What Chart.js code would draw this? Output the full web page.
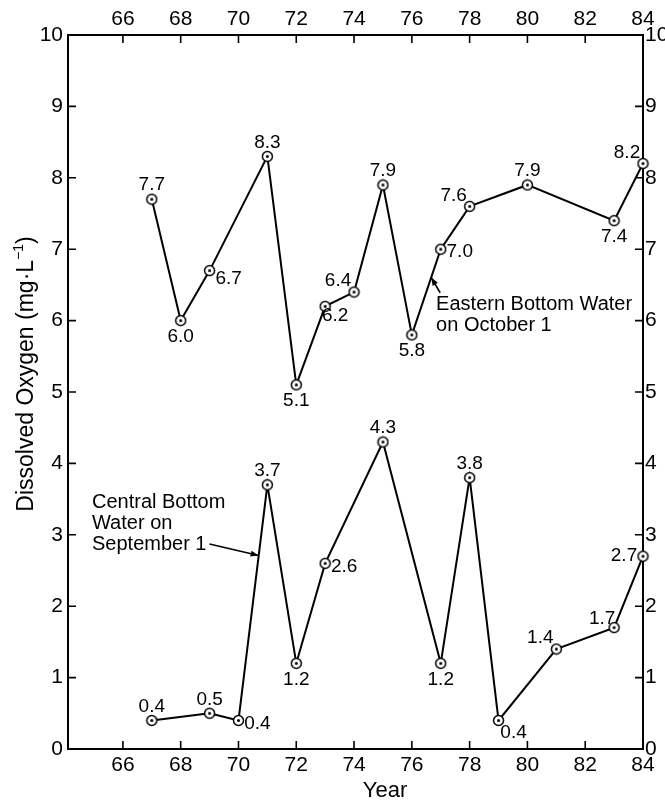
<!DOCTYPE html>
<html>
<head>
<meta charset="utf-8">
<script src="https://cdn.jsdelivr.net/npm/chart.js@4.4.1/dist/chart.umd.min.js"></script>
<style>
  html, body { margin: 0; padding: 0; background: #fff; }
  #wrap { width: 665px; height: 801px; }
</style>
</head>
<body>
<div id="wrap"><canvas id="c" width="665" height="801"></canvas></div>
<script>
// Dissolved oxygen in Lake Erie bottom water, 1967-1984
const yearTicks = [66, 68, 70, 72, 74, 76, 78, 80, 82, 84];
const oxygenTicks = [0, 1, 2, 3, 4, 5, 6, 7, 8, 9, 10];

const easternYears  = [67, 68, 69, 71, 72, 73, 74, 75, 76, 77, 78, 80, 83, 84];
const easternValues = [7.7, 6.0, 6.7, 8.3, 5.1, 6.2, 6.4, 7.9, 5.8, 7.0, 7.6, 7.9, 7.4, 8.2];
const easternLabelSide = ['a', 'b', 'rb', 'a', 'b', 'br', 'al', 'a', 'b', 'r', 'al', 'a', 'b', 'al'];

const centralYears  = [67, 69, 70, 71, 72, 73, 75, 77, 78, 79, 81, 83, 84];
const centralValues = [0.4, 0.5, 0.4, 3.7, 1.2, 2.6, 4.3, 1.2, 3.8, 0.4, 1.4, 1.7, 2.7];
const centralLabelSide = ['a', 'a', 'r', 'a', 'b', 'r', 'a', 'b', 'a', 'br2', 'al', 'al2', 'l'];

const FONT = '"Liberation Sans", Arial, Helvetica, sans-serif';

// label placement: offset of the text centre from the point
const labelOffsets = {
  a:   [0, -14],
  b:   [0, 16],
  r:   [19, 3],
  rb:  [19, 8],
  br:  [10, 9],
  br2: [15, 12],
  al:  [-16, -11],
  al2: [-12, -9],
  l:   [-19, 0]
};

// circled-dot marker
function makeMarker() {
  const m = document.createElement('canvas');
  m.width = 13; m.height = 13;
  const g = m.getContext('2d');
  g.beginPath();
  g.arc(6.5, 6.5, 5, 0, Math.PI * 2);
  g.fillStyle = '#fff';
  g.fill();
  g.lineWidth = 1.5;
  g.strokeStyle = '#000';
  g.stroke();
  g.beginPath();
  g.arc(6.5, 6.5, 1.5, 0, Math.PI * 2);
  g.fillStyle = '#000';
  g.fill();
  return m;
}
const marker = makeMarker();

function toPoints(xs, ys) { return xs.map((x, i) => ({ x: x, y: ys[i] })); }

const lineStyle = {
  borderColor: '#000',
  borderWidth: 2,
  tension: 0,
  pointStyle: marker,
  pointRadius: 6,
  pointHoverRadius: 6,
  fill: false,
  clip: false
};

function setTicks(list) {
  return function (scale) { scale.ticks = list.map(v => ({ value: v })); };
}
function fixSize(dim, size) {
  return function (scale) {
    scale[dim] = size;
    scale.paddingLeft = 0; scale.paddingRight = 0;
    scale.paddingTop = 0; scale.paddingBottom = 0;
  };
}

const tickFont = { family: FONT, size: 21 };
const borderStyle = { display: true, color: '#000', width: 2 };

function xAxis(position, size) {
  return {
    type: 'linear', position: position, min: 64.1, max: 84,
    grid: { display: false, drawTicks: false },
    border: borderStyle,
    ticks: { font: tickFont, color: '#000', padding: position === 'top' ? 3 : 4,
             maxRotation: 0, autoSkip: false },
    afterBuildTicks: setTicks(yearTicks),
    afterFit: fixSize('height', size)
  };
}
function yAxis(position, size) {
  return {
    type: 'linear', position: position, min: 0, max: 10,
    grid: { display: false, drawTicks: false },
    border: borderStyle,
    ticks: { font: tickFont, color: '#000', padding: position === 'left' ? 5 : 2, autoSkip: false },
    afterBuildTicks: setTicks(oxygenTicks),
    afterFit: fixSize('width', size)
  };
}

// inward tick marks on all four sides
const innerTicks = {
  id: 'innerTicks',
  afterDraw(chart) {
    const ctx = chart.ctx, a = chart.chartArea, L = 8;
    ctx.save();
    ctx.strokeStyle = '#000';
    ctx.lineWidth = 1.6;
    ctx.beginPath();
    ['x', 'xTop'].forEach(id => {
      const s = chart.scales[id];
      s.ticks.forEach(t => {
        const px = s.getPixelForValue(t.value);
        if (id === 'x') { ctx.moveTo(px, a.bottom); ctx.lineTo(px, a.bottom - L); }
        else { ctx.moveTo(px, a.top); ctx.lineTo(px, a.top + L); }
      });
    });
    ['y', 'yRight'].forEach(id => {
      const s = chart.scales[id];
      s.ticks.forEach(t => {
        const py = s.getPixelForValue(t.value);
        if (id === 'y') { ctx.moveTo(a.left, py); ctx.lineTo(a.left + L, py); }
        else { ctx.moveTo(a.right, py); ctx.lineTo(a.right - L, py); }
      });
    });
    ctx.stroke();
    ctx.restore();
  }
};

// value labels beside each point
const valueLabels = {
  id: 'valueLabels',
  afterDatasetsDraw(chart) {
    const ctx = chart.ctx;
    const sides = [easternLabelSide, centralLabelSide];
    ctx.save();
    ctx.font = '19px ' + FONT;
    ctx.fillStyle = '#000';
    ctx.textAlign = 'center';
    ctx.textBaseline = 'middle';
    chart.data.datasets.forEach((ds, di) => {
      const meta = chart.getDatasetMeta(di);
      meta.data.forEach((pt, i) => {
        const off = labelOffsets[sides[di][i]];
        ctx.fillText(ds.data[i].y.toFixed(1), pt.x + off[0], pt.y + off[1]);
      });
    });
    ctx.restore();
  }
};

function arrow(ctx, x0, y0, x1, y1) {
  ctx.beginPath();
  ctx.moveTo(x0, y0);
  ctx.lineTo(x1, y1);
  ctx.stroke();
  const ang = Math.atan2(y1 - y0, x1 - x0), len = 8, w = 3;
  ctx.beginPath();
  ctx.moveTo(x1, y1);
  ctx.lineTo(x1 - len * Math.cos(ang) + w * Math.sin(ang), y1 - len * Math.sin(ang) - w * Math.cos(ang));
  ctx.lineTo(x1 - len * Math.cos(ang) - w * Math.sin(ang), y1 - len * Math.sin(ang) + w * Math.cos(ang));
  ctx.closePath();
  ctx.fill();
}

// series captions with arrows, axis titles
const captions = {
  id: 'captions',
  afterDraw(chart) {
    const ctx = chart.ctx, xs = chart.scales.x, ys = chart.scales.y;
    const X = v => xs.getPixelForValue(v), Y = v => ys.getPixelForValue(v);
    const along = (x0, y0, x1, y1, t) => [X(x0 + (x1 - x0) * t), Y(y0 + (y1 - y0) * t)];
    ctx.save();
    ctx.fillStyle = '#000';
    ctx.strokeStyle = '#000';
    ctx.lineWidth = 1.6;
    ctx.font = '20px ' + FONT;
    ctx.textAlign = 'left';
    ctx.textBaseline = 'alphabetic';

    // Eastern basin caption
    const ex = X(76.84), ey = Y(6.15);
    ctx.fillText('Eastern Bottom Water', ex, ey);
    ctx.fillText('on October 1', ex, ey + 21);
    const eTip = along(76, 5.8, 77, 7.0, 0.67);
    arrow(ctx, X(76.98), Y(6.39), eTip[0], eTip[1]);

    // Central basin caption
    const cx = X(64.93), cy = Y(3.375);
    ctx.fillText('Central Bottom', cx, cy);
    ctx.fillText('Water on', cx, cy + 21);
    ctx.fillText('September 1', cx, cy + 42);
    const cTip = along(70, 0.4, 71, 3.7, 0.7);
    arrow(ctx, cx + ctx.measureText('September 1').width + 3, cy + 36, cTip[0], cTip[1]);

    // x title
    ctx.font = '22px ' + FONT;
    ctx.textAlign = 'center';
    ctx.fillText('Year', 385, 797);

    // y title, rotated, with superscript
    ctx.translate(33, 374);
    ctx.rotate(-Math.PI / 2);
    const main = 'Dissolved Oxygen (mg\u00B7L', sup = '\u22121', close = ')';
    ctx.font = '23px ' + FONT;
    const wMain = ctx.measureText(main).width, wClose = ctx.measureText(close).width;
    ctx.font = '14px ' + FONT;
    const wSup = ctx.measureText(sup).width;
    let p = -(wMain + wSup + wClose) / 2;
    ctx.textAlign = 'left';
    ctx.font = '23px ' + FONT;
    ctx.fillText(main, p, 0); p += wMain;
    ctx.font = '14px ' + FONT;
    ctx.fillText(sup, p, -10); p += wSup;
    ctx.font = '23px ' + FONT;
    ctx.fillText(close, p, 0);
    ctx.restore();
  }
};

new Chart(document.getElementById('c'), {
  type: 'line',
  data: {
    datasets: [
      Object.assign({ label: 'Eastern Bottom Water on October 1', data: toPoints(easternYears, easternValues) }, lineStyle),
      Object.assign({ label: 'Central Bottom Water on September 1', data: toPoints(centralYears, centralValues) }, lineStyle)
    ]
  },
  options: {
    responsive: false,
    animation: false,
    devicePixelRatio: 1,
    layout: { padding: 0 },
    plugins: { legend: { display: false }, tooltip: { enabled: false }, title: { display: false } },
    scales: {
      x: xAxis('bottom', 52),
      xTop: xAxis('top', 35),
      y: yAxis('left', 68),
      yRight: yAxis('right', 22)
    }
  },
  plugins: [innerTicks, valueLabels, captions]
});
</script>
</body>
</html>
